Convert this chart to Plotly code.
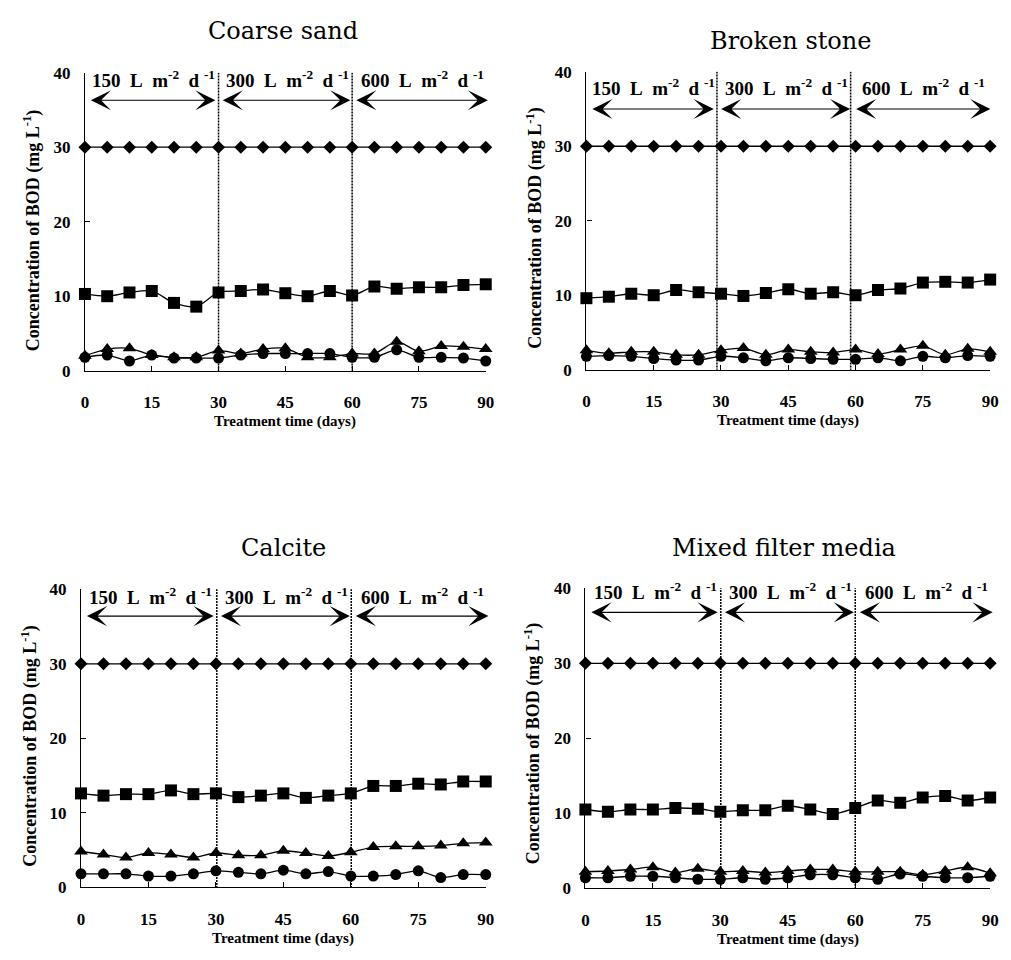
import plotly.graph_objects as go

# ---------------- data ----------------
days = [0, 5, 10, 15, 20, 25, 30, 35, 40, 45, 50, 55, 60, 65, 70, 75, 80, 85, 90]
x_ticks = [0, 15, 30, 45, 60, 75, 90]
y_ticks = [0, 10, 20, 30, 40]
panel_titles = ["Coarse sand", "Broken stone", "Calcite", "Mixed filter media"]
rate_labels = ["150", "300", "600"]

influent = [30, 30, 30, 30, 30, 30, 30, 30, 30, 30, 30, 30, 30, 30, 30, 30, 30, 30, 30]

cs_square = [10.3, 10.0, 10.5, 10.7, 9.1, 8.6, 10.5, 10.7, 10.9, 10.4, 10.0, 10.7, 10.1, 11.3, 11.0, 11.2, 11.2, 11.5, 11.6]
cs_triangle = [2.0, 2.9, 3.0, 2.1, 1.8, 1.8, 2.7, 2.3, 2.9, 3.0, 1.8, 1.8, 2.3, 2.3, 3.9, 2.6, 3.3, 3.2, 2.9]
cs_circle = [1.8, 2.1, 1.3, 2.1, 1.7, 1.7, 1.7, 2.1, 2.3, 2.3, 2.3, 2.3, 1.8, 1.8, 2.8, 1.8, 1.8, 1.7, 1.3]

bs_square = [9.6, 9.8, 10.2, 10.0, 10.7, 10.4, 10.2, 9.9, 10.3, 10.8, 10.2, 10.4, 10.0, 10.7, 10.9, 11.7, 11.8, 11.7, 12.1]
bs_triangle = [2.6, 2.2, 2.4, 2.4, 2.0, 2.0, 2.6, 2.9, 2.0, 2.7, 2.4, 2.3, 2.7, 2.1, 2.7, 3.2, 2.0, 2.8, 2.4]
bs_circle = [1.8, 1.9, 1.8, 1.5, 1.3, 1.3, 1.8, 1.6, 1.2, 1.6, 1.5, 1.4, 1.4, 1.6, 1.2, 1.8, 1.6, 1.9, 1.8]

ca_square = [12.6, 12.3, 12.5, 12.5, 13.0, 12.5, 12.6, 12.1, 12.3, 12.6, 12.0, 12.3, 12.6, 13.6, 13.6, 13.9, 13.8, 14.2, 14.2]
ca_triangle = [4.8, 4.4, 4.0, 4.6, 4.4, 4.0, 4.6, 4.3, 4.3, 4.9, 4.6, 4.2, 4.7, 5.4, 5.5, 5.5, 5.6, 5.9, 6.0]
ca_circle = [1.8, 1.8, 1.8, 1.5, 1.5, 1.8, 2.2, 2.0, 1.8, 2.3, 1.8, 2.1, 1.5, 1.5, 1.7, 2.2, 1.3, 1.7, 1.7]

mx_square = [10.5, 10.2, 10.5, 10.5, 10.7, 10.6, 10.2, 10.4, 10.4, 11.0, 10.5, 9.9, 10.7, 11.7, 11.4, 12.1, 12.3, 11.7, 12.1]
mx_triangle = [2.2, 2.3, 2.5, 2.8, 2.1, 2.6, 2.2, 2.3, 2.1, 2.3, 2.5, 2.5, 2.2, 2.2, 2.2, 1.8, 2.3, 2.8, 2.0]
mx_circle = [1.4, 1.4, 1.6, 1.6, 1.4, 1.2, 1.2, 1.4, 1.2, 1.4, 1.8, 1.8, 1.4, 1.2, 1.9, 1.6, 1.4, 1.4, 1.6]

panel_data = [
    (influent, cs_square, cs_triangle, cs_circle),
    (influent, bs_square, bs_triangle, bs_circle),
    (influent, ca_square, ca_triangle, ca_circle),
    (influent, mx_square, mx_triangle, mx_circle),
]

# ---------------- layout constants ----------------
W, H = 1011, 960
# plot areas in pixels: (left, right, top, bottom)
areas = [(82, 488, 65, 369), (590, 999, 64, 368), (78, 488, 592, 896), (589, 999, 591, 897)]
vlines = [(30, 60), (29.1, 58.9), (30.2, 60.1), (30.1, 60.0)]
arrow_y = [36.3, 35.0, 36.4, 36.8]
label_y = [39.2, 38.0, 39.1, 39.6]
title_px = [(283, 22), (797, 33), (283, 550), (790, 550)]
ytitle_px = [(28, 226), (537, 224), (26, 752), (536, 750)]

serif = "Liberation Serif"
symbols = ["diamond", "square", "triangle-up", "circle"]
msizes = [10, 12, 12, 11]

fig = go.Figure()
for i, (series) in enumerate(panel_data):
    n = "" if i == 0 else str(i + 1)
    xa, ya = "x" + n, "y" + n
    for s, vals in enumerate(series):
        fig.add_trace(go.Scatter(
            x=days, y=vals, xaxis=xa, yaxis=ya, mode="lines+markers",
            line=dict(color="black", width=1.3, shape="spline", smoothing=0.8),
            marker=dict(symbol=symbols[s], size=msizes[s], color="black"),
            cliponaxis=False, showlegend=False, hoverinfo="skip"))
    l, r, t, b = areas[i]
    xdom = [l / W, r / W]
    ydom = [1 - b / H, 1 - t / H]
    axcommon = dict(showgrid=False, zeroline=False, showline=True, linecolor="black",
                    linewidth=1.3, ticks="inside", ticklen=5, tickwidth=1.2, tickcolor="black",
                    tickfont=dict(family=serif, size=17, color="black", weight="bold"))
    fig.update_layout(**{
        ("xaxis" + n): dict(domain=xdom, range=[0, 90], tickvals=x_ticks, anchor=ya,
                            ticklabelstandoff=16, **axcommon),
        ("yaxis" + n): dict(domain=ydom, range=[0, 40], tickvals=y_ticks, anchor=xa,
                            ticklabelstandoff=10, **axcommon),
    })
    # dotted vertical separators
    for v in vlines[i]:
        fig.add_shape(type="line", xref=xa, yref=ya, x0=v, x1=v, y0=-1.3, y1=40.6,
                      line=dict(color="black", width=1.5, dash="2px,1px"))
    # double headed arrows and loading rate labels
    off = vlines[i][0] - 30
    segs = [(1.0, 29.3 + off), (30.6 + off, 59.6 + off * 0.9), (60.6 + off * 0.9, 90.5 + off * 0.5)]
    for k, (a0, a1) in enumerate(segs):
        fig.add_annotation(x=a1, y=arrow_y[i], ax=a0, ay=arrow_y[i], xref=xa, yref=ya,
                           axref=xa, ayref=ya, text="", showarrow=True, arrowhead=3,
                           startarrowhead=3, arrowside="end+start", arrowsize=2.8,
                           startarrowsize=2.8, arrowwidth=1.2, arrowcolor="black")
        fig.add_annotation(x=(a0 + a1) / 2 + 0.3, y=label_y[i], xref=xa, yref=ya,
                           xanchor="center", yanchor="middle",
                           text=rate_labels[k] + "\u00a0\u00a0L\u00a0\u00a0m<sup>-2</sup>\u00a0\u00a0d\u00a0<sup>-1</sup>",
                           showarrow=False,
                           font=dict(family=serif, size=19, color="black", weight="bold"))
    # x axis title
    fig.add_annotation(x=(l + r) / 2 / W, y=1 - (b + 52) / H, xref="paper", yref="paper",
                       xanchor="center", yanchor="middle",
                       text="Treatment time (days)", showarrow=False,
                       font=dict(family=serif, size=15, color="black", weight="bold"))
    # y axis title
    fig.add_annotation(x=ytitle_px[i][0] / W, y=1 - ytitle_px[i][1] / H, xref="paper", yref="paper",
                       xanchor="center", yanchor="middle",
                       text="Concentration of BOD (mg L<sup>-1</sup>)", showarrow=False, textangle=-90,
                       font=dict(family=serif, size=18, color="black", weight="bold"))
    # panel title
    fig.add_annotation(x=title_px[i][0] / W, y=1 - title_px[i][1] / H, xref="paper", yref="paper",
                       xanchor="center", yanchor="middle",
                       text=panel_titles[i], showarrow=False,
                       font=dict(family="DejaVu Serif", size=24, color="black"))

fig.update_layout(width=W, height=H, margin=dict(l=0, r=0, t=0, b=0),
                  paper_bgcolor="white", plot_bgcolor="white")
fig.write_html("out.html")
